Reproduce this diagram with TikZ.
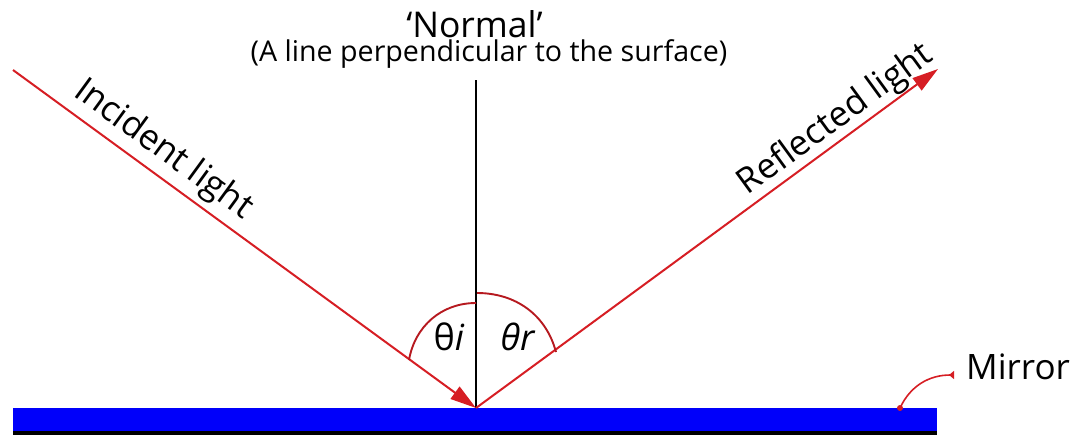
\documentclass[tikz,border=0pt]{standalone}
\usepackage{fontspec}
\setmainfont{Open Sans}
\usetikzlibrary{arrows.meta}
\definecolor{rayred}{RGB}{214,30,36}
\definecolor{mirrorblue}{RGB}{0,0,250}
\tikzset{
  ray/.style={draw=rayred, line width=2pt},
  anglearc/.style={draw=rayred!85!black, line width=1.9pt},
  normalline/.style={draw=black, line width=1.8pt},
  lbl/.style={inner sep=0pt, text=black, font=\fontsize{35}{40}\selectfont},
  tip/.style={-{Triangle[length=26pt,width=15pt]}},
}
\begin{document}
\begin{tikzpicture}[x=1pt,y=-1pt]
\useasboundingbox (0,0) rectangle (1076,437);
% mirror
\fill[mirrorblue] (13,408) rectangle (937,431);
\fill[black] (13,431) rectangle (937,435);
% key points
\coordinate (P) at (476,408);
\coordinate (A) at (13,70);
\coordinate (B) at (938,69);
\coordinate (Ntop) at (476,80);
% normal
\draw[normalline] (Ntop) -- (P);
% rays
\draw[ray, tip] (A) -- (P);
\draw[ray, tip] (P) -- (B);
% angle arcs
\coordinate (ai1) at (476,303);
\coordinate (ai2) at (409,360);
\coordinate (ar1) at (477,293);
\coordinate (ar2) at (556,352);
\draw[anglearc] (ai1) to[out=180,in=80] (ai2);
\draw[anglearc] (ar1) to[out=0,in=105] (ar2);
% labels
\node[lbl, font=\fontsize{35.5}{40}\selectfont] (normal) at (474.5,24) {‘Normal’};
\node[lbl, font=\fontsize{28.6}{32}\selectfont] (desc) at (489,54) {(A line perpendicular to the surface)};
\node[lbl, rotate=-36.1] (inc) at (163,150) {Incident light};
\node[lbl, rotate=36.1] (refl) at (836,120) {Reflected light};
\node[lbl, font=\fontsize{36}{40}\selectfont] (thi) at (449,337) {θ\textit{i}};
\node[lbl, font=\fontsize{36}{40}\selectfont] (thr) at (518,337) {\textit{θr}};
\node[lbl, anchor=base west] (mirror) at (966,379) {Mirror};
% mirror pointer
\coordinate (md) at (900,408);
\coordinate (me) at (954,375);
\fill[rayred] (md) circle (3pt);
\draw[ray, line width=1.6pt, -{Triangle[reversed,length=5pt,width=8pt]}] (md) to[out=65,in=180] (me);
\end{tikzpicture}
\end{document}
